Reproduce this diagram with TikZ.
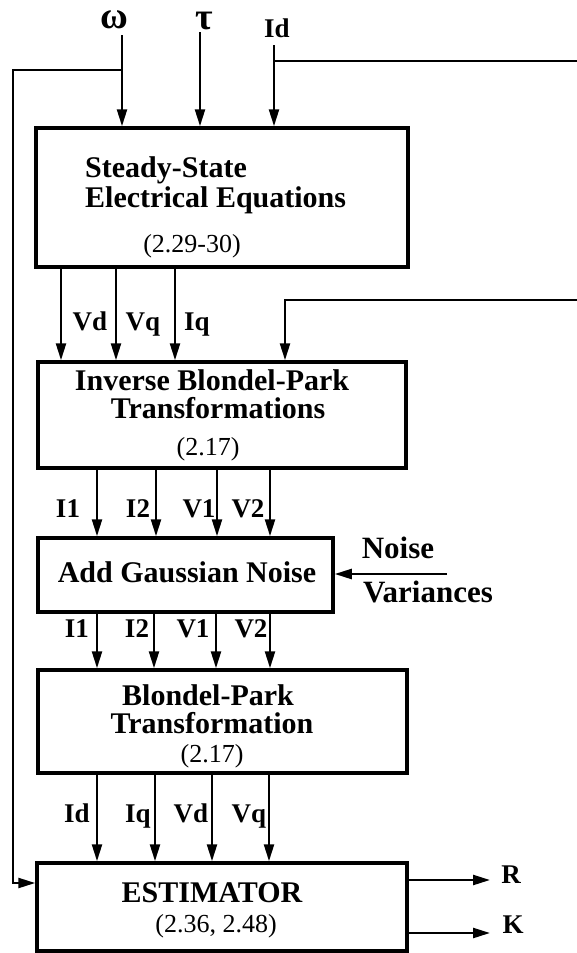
\documentclass[tikz,border=0pt]{standalone}
\usepackage{fontspec}
\setmainfont{Liberation Serif}
\usetikzlibrary{arrows.meta,calc}
\begin{document}
\begin{tikzpicture}[x=1pt,y=-1pt,
  box/.style={draw,line width=3.5pt,inner sep=0pt},
  arr/.style={line width=2.4pt,-{Triangle[length=17pt,width=10pt]}},
  ln/.style={line width=2.6pt},
  txt/.style={font=\fontsize{30}{32}\bfseries\selectfont,anchor=base,inner sep=0pt},
  lab/.style={font=\fontsize{27}{30}\bfseries\selectfont,anchor=base,inner sep=0pt},
  lbig/.style={font=\fontsize{31}{33}\bfseries\selectfont,anchor=base,inner sep=0pt},
  eq/.style={font=\fontsize{26}{28}\selectfont,anchor=base,inner sep=0pt},
  greek/.style={font=\fontsize{38}{40}\bfseries\selectfont,anchor=base,inner sep=0pt}]
\useasboundingbox[fill=white] (0,0) rectangle (577,953);

% boxes
\node[box,minimum width=372pt,minimum height=139pt] (b1) at (222,197.5) {};
\node[box,minimum width=368pt,minimum height=106pt] (b2) at (222,415) {};
\node[box,minimum width=295pt,minimum height=74pt] (b3) at (185.5,575) {};
\node[box,minimum width=369pt,minimum height=103pt] (b4) at (222.5,721.5) {};
\node[box,minimum width=370pt,minimum height=88pt] (b5) at (222,907) {};

% box texts
\node[txt,anchor=base west] (t1a) at (85,177) {Steady-State};
\node[txt,anchor=base west] (t1b) at (85,207) {Electrical Equations};
\node[eq] (t1c) at (192,252) {(2.29-30)};
\node[txt] (t2a) at (212,390) {Inverse Blondel-Park};
\node[txt] (t2b) at (218,418) {Transformations};
\node[eq] (t2c) at (208,455) {(2.17)};
\node[txt] (t3) at (187,582) {Add Gaussian Noise};
\node[txt] (t4a) at (208,705) {Blondel-Park};
\node[txt] (t4b) at (212,733) {Transformation};
\node[eq] (t4c) at (212,762) {(2.17)};
\node[txt] (t5a) at (212,902) {ESTIMATOR};
\node[eq] (t5b) at (216,932) {(2.36, 2.48)};

% top inputs
\node[greek] (om) at (114,28) {ω};
\node[greek] (tau) at (204,29) {τ};
\node[lab] (idin) at (277,37) {Id};
\coordinate (omS) at (122,35);
\coordinate (tauS) at (200,32);
\coordinate (idS) at (274,45);
\draw[arr] (omS) -- (omS |- b1.north);
\draw[arr] (tauS) -- (tauS |- b1.north);
\draw[arr] (idS) -- (idS |- b1.north);

% feedback lines
\coordinate (jw) at (122,70);
\coordinate (jl) at (13,883);
\draw[arr] (jw) -| (jl) -- (b5.west |- jl);
\coordinate (jid) at (274,61);
\coordinate (idR) at (577,61);
\draw[ln] (jid) -- (idR);
\coordinate (fbR) at (577,300);
\coordinate (fbX) at (285,300);
\draw[arr] (fbR) -- (fbX) -- (fbX |- b2.north);

% b1 -> b2
\foreach \x in {61,116,175}{
  \draw[arr] (\x,0 |- b1.south) -- (\x,0 |- b2.north);
}
\node[lab] (l1a) at (90,330) {Vd};
\node[lab] (l1b) at (143,330) {Vq};
\node[lab] (l1c) at (197,330) {Iq};

% b2 -> b3
\foreach \x in {97,156,217,270}{
  \draw[arr] (\x,0 |- b2.south) -- (\x,0 |- b3.north);
}
\node[lab] (l2a) at (68,517) {I1};
\node[lab] (l2b) at (138,517) {I2};
\node[lab] (l2c) at (199,517) {V1};
\node[lab] (l2d) at (248,517) {V2};

% noise input
\coordinate (nz) at (447,574);
\draw[arr] (nz) -- (b3.east |- nz);
\node[lbig] (nz1) at (398,558) {Noise};
\node[lbig] (nz2) at (428,602) {Variances};

% b3 -> b4
\foreach \x in {97,154,216,270}{
  \draw[arr] (\x,0 |- b3.south) -- (\x,0 |- b4.north);
}
\node[lab] (l3a) at (77,637) {I1};
\node[lab] (l3b) at (137,637) {I2};
\node[lab] (l3c) at (193,637) {V1};
\node[lab] (l3d) at (251,637) {V2};

% b4 -> b5
\foreach \x in {97,155,212,269}{
  \draw[arr] (\x,0 |- b4.south) -- (\x,0 |- b5.north);
}
\node[lab] (l4a) at (77,822) {Id};
\node[lab] (l4b) at (138,822) {Iq};
\node[lab] (l4c) at (191,822) {Vd};
\node[lab] (l4d) at (249,822) {Vq};

% outputs
\coordinate (rE) at (490,880);
\coordinate (kE) at (490,933);
\draw[arr] (b5.east |- rE) -- (rE);
\draw[arr] (b5.east |- kE) -- (kE);
\node[lab] (R) at (511,883) {R};
\node[lab] (K) at (513,933) {K};
\end{tikzpicture}
\end{document}
